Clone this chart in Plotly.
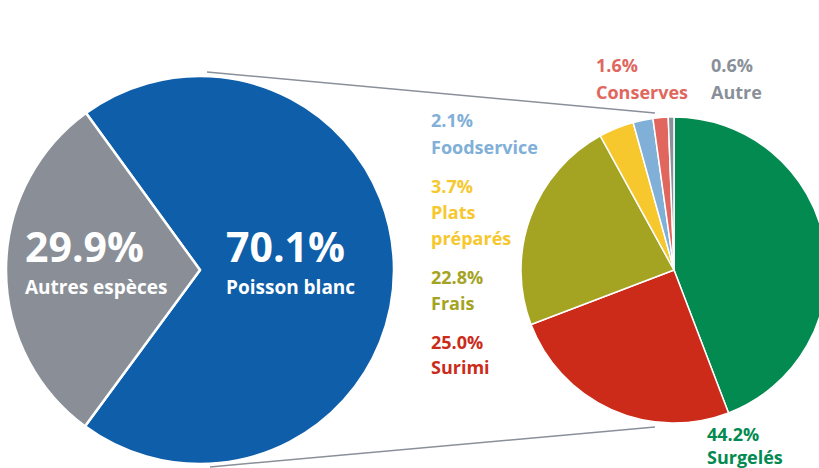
import plotly.graph_objects as go

W, H = 830, 468

# Left pie: species
species_labels = ["Poisson blanc", "Autres espèces"]
species_values = [70.1, 29.9]
species_colors = ["#0E5EA9", "#8A8F97"]

# Right pie: Poisson blanc by product
product_labels = ["Surgelés", "Surimi", "Frais", "Plats<br>préparés", "Foodservice", "Conserves", "Autre"]
product_values = [44.2, 25.0, 22.8, 3.7, 2.1, 1.6, 0.6]
product_colors = ["#038A50", "#CC2B1A", "#A4A322", "#F6C82E", "#80AFD8", "#E0665E", "#8A9099"]

fig = go.Figure()

# pixel geometry -> paper domain
def dom(cx, cy, r):
    return dict(x=[(cx - r) / W, (cx + r) / W], y=[(H - cy - r) / H, (H - cy + r) / H])

fig.add_trace(go.Pie(
    labels=species_labels, values=species_values, sort=False, direction="clockwise",
    rotation=-36, marker=dict(colors=species_colors, line=dict(color="white", width=2.5)),
    textinfo="none", hoverinfo="label+percent", domain=dom(200, 270, 194), showlegend=False,
))
fig.add_trace(go.Pie(
    labels=product_labels, values=product_values, sort=False, direction="clockwise",
    rotation=0, marker=dict(colors=product_colors, line=dict(color="white", width=1.5)),
    textinfo="none", hoverinfo="label+percent", domain=dom(674, 270, 153), showlegend=False,
))

# hidden pixel-coordinate axes for annotations / connector lines
fig.update_xaxes(range=[0, W], visible=False, fixedrange=True)
fig.update_yaxes(range=[H, 0], visible=False, fixedrange=True)

fig.add_shape(type="line", x0=207, y0=72, x1=655, y1=113, xref="x", yref="y",
              line=dict(color="#8A9099", width=1.5))
fig.add_shape(type="line", x0=210, y0=467, x1=655, y1=427, xref="x", yref="y",
              line=dict(color="#8A9099", width=1.5))

FONT = "Open Sans"
ann = []
def txt(x, y, s, color, size):
    ann.append(dict(x=x, y=y, xref="x", yref="y", text=s, showarrow=False,
                    xanchor="left", yanchor="middle",
                    font=dict(family=FONT, size=size, color=color)))

# big pie labels
txt(23, 246, f"<b>{species_values[1]:.1f}%</b>", "white", 41)
txt(23, 287, f"<b>{species_labels[1]}</b>", "white", 19)
txt(224, 246, f"<b>{species_values[0]:.1f}%</b>", "white", 41)
txt(224, 287, f"<b>{species_labels[0]}</b>", "white", 19)

# small pie labels: (index, x, y_pct, y_label lines)
pos = {
    4: (429, 120, [147]),
    3: (429, 186, [212, 238]),
    2: (429, 277, [303]),
    1: (429, 342, [367]),
    5: (594, 65, [92]),
    6: (709, 65, [92]),
    0: (705, 434, [457]),
}
for i, (x, yp, ys) in pos.items():
    c = product_colors[i]
    txt(x, yp, f"<b>{product_values[i]:.1f}%</b>", c, 18)
    for line, yl in zip(product_labels[i].split("<br>"), ys):
        txt(x, yl, f"<b>{line}</b>", c, 18)

fig.update_layout(
    width=W, height=H, margin=dict(l=0, r=0, t=0, b=0),
    paper_bgcolor="white", plot_bgcolor="white",
    annotations=ann,
)

fig.write_html("out.html", config={"displayModeBar": False}, post_script=(
    "document.body.style.margin='0';document.body.style.overflow='hidden';"
    "document.documentElement.style.overflow='hidden';"))
